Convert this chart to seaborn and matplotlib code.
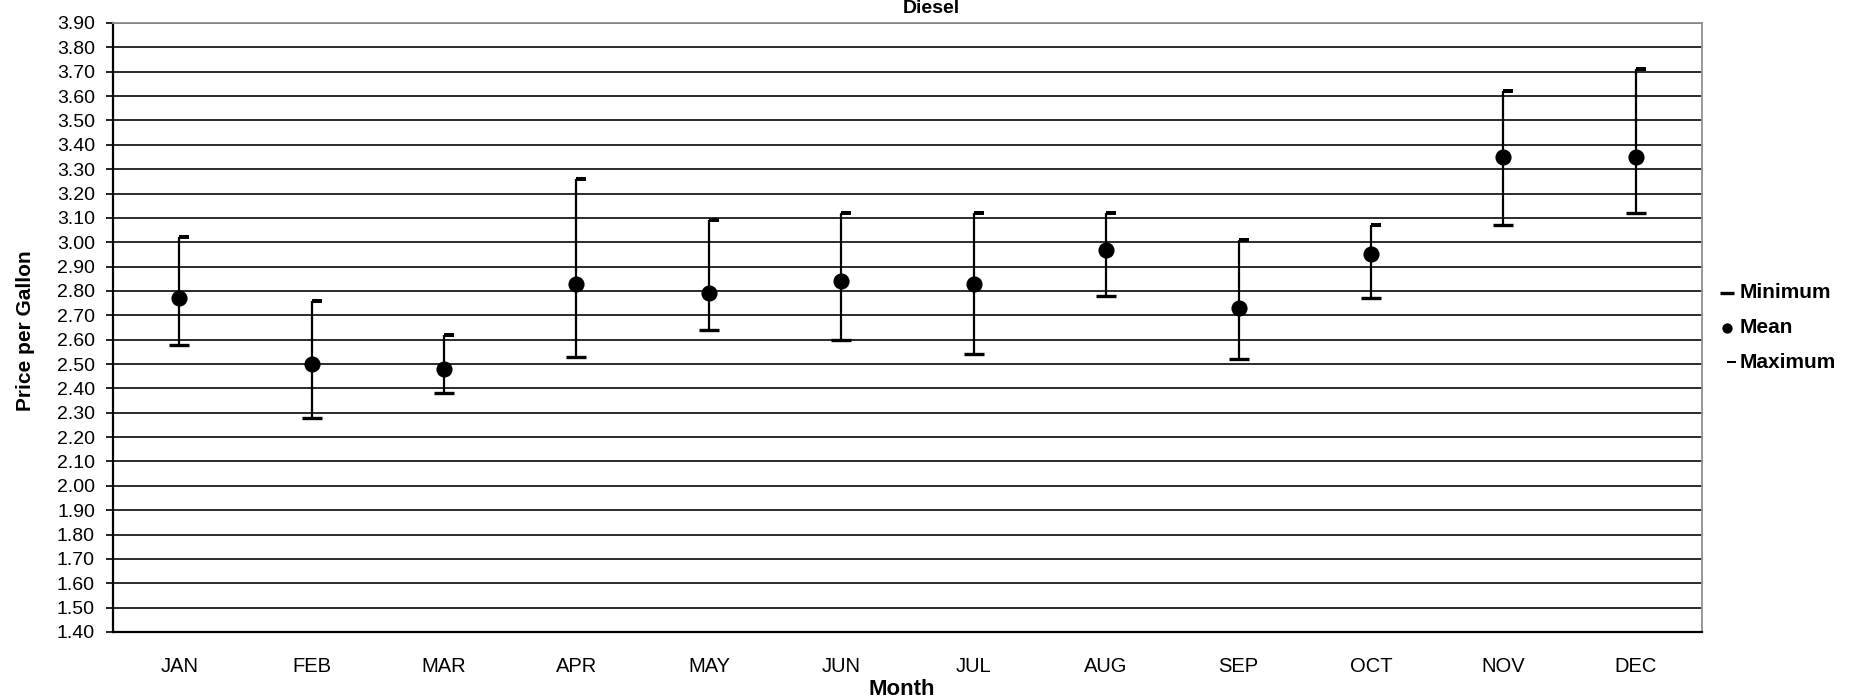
import numpy as np
import pandas as pd
import seaborn as sns
import matplotlib.pyplot as plt
from matplotlib import font_manager
from matplotlib.ticker import MultipleLocator, FormatStrFormatter, FixedLocator

# monthly diesel price per gallon
months = ['JAN', 'FEB', 'MAR', 'APR', 'MAY', 'JUN',
          'JUL', 'AUG', 'SEP', 'OCT', 'NOV', 'DEC']
price_min = [2.58, 2.28, 2.38, 2.53, 2.64, 2.60, 2.54, 2.78, 2.52, 2.77, 3.07, 3.12]
price_mean = [2.77, 2.50, 2.48, 2.83, 2.79, 2.84, 2.83, 2.97, 2.73, 2.95, 3.35, 3.35]
price_max = [3.02, 2.76, 2.62, 3.26, 3.09, 3.12, 3.12, 3.12, 3.01, 3.07, 3.62, 3.71]

df = pd.DataFrame({'Month': months, 'Minimum': price_min,
                   'Mean': price_mean, 'Maximum': price_max})
df['pos'] = np.arange(len(df))

sns.set_style('white')
plt.rcParams['font.family'] = ['Liberation Sans', 'DejaVu Sans']
for k in ['text.color', 'axes.labelcolor', 'xtick.color', 'ytick.color']:
    plt.rcParams[k] = 'black'

# month labels in the original are tall and narrow
installed = {f.name for f in font_manager.fontManager.ttflist}
narrow = 'Liberation Sans Narrow' if 'Liberation Sans Narrow' in installed else 'Liberation Sans'

fig = plt.figure(figsize=(18.54, 6.99), dpi=100)
ax = fig.add_axes([113/1854, 67/699, 1589/1854, 609/699])

# high-low lines
ax.vlines(df['pos'], df['Minimum'], df['Maximum'], color='black', lw=1.6, zorder=3)

# Excel-style markers: wide dash for min, right tick for max, dot for mean
max_marker = [(0, -0.15), (1, -0.15), (1, 0.15), (0, 0.15)]
sns.scatterplot(data=df, x='pos', y='Minimum', marker='_', s=190, color='black',
                linewidth=2.4, label='Minimum', ax=ax, zorder=4)
sns.scatterplot(data=df, x='pos', y='Mean', marker='o', s=135, color='black',
                linewidth=0, label='Mean', ax=ax, zorder=5)
sns.scatterplot(data=df, x='pos', y='Maximum', marker=max_marker, s=210, color='black',
                linewidth=0, label='Maximum', ax=ax, zorder=4)

ax.set_xlim(-0.5, len(months) - 0.5)
ax.set_ylim(1.4, 3.9)

ax.yaxis.set_major_locator(MultipleLocator(0.1))
ax.yaxis.set_major_formatter(FormatStrFormatter('%.2f'))
ax.yaxis.grid(True, color='#1a1a1a', lw=1.3)
ax.set_axisbelow(True)

ax.set_xticks(df['pos'])
ax.set_xticklabels(months, family=narrow, fontsize=14.5)
ax.xaxis.set_minor_locator(FixedLocator(np.arange(len(months) + 1) - 0.5))
ax.tick_params(axis='x', which='major', length=0, pad=18)
ax.tick_params(axis='x', which='minor', direction='inout', length=9, width=1.2, color='black')
ax.tick_params(axis='y', which='major', direction='out', length=5, width=1.2, color='black',
               pad=8, labelsize=14, left=True)

for s in ['left', 'bottom']:
    ax.spines[s].set_color('black')
    ax.spines[s].set_linewidth(1.6)
for s in ['top', 'right']:
    ax.spines[s].set_color('#909090')
    ax.spines[s].set_linewidth(1.3)

ax.set_xlabel('Month', fontsize=16, fontweight='bold', va='center')
ax.set_ylabel('Price per Gallon', fontsize=15, fontweight='bold', va='center')
ax.xaxis.set_label_coords(0.4966, -0.095)
ax.yaxis.set_label_coords(-0.0548, 0.494)

leg = ax.legend(loc='center left', bbox_to_anchor=(1.001, 0.5), frameon=False,
                prop={'weight': 'bold', 'size': 15}, labelspacing=0.75,
                handlelength=0.8, handletextpad=0.25, borderaxespad=0.3)
sizes = [110, 55, 150]
for h, sz in zip(leg.legend_handles, sizes):
    h.set_sizes([sz])

fig.text(931/1854, 1 - 13/699, 'Diesel', ha='center', va='baseline',
         fontsize=14, fontweight='bold')

fig.canvas.draw()
ax.get_ygridlines()[-1].set_color('#909090')

fig.savefig('out.png', dpi=100)
